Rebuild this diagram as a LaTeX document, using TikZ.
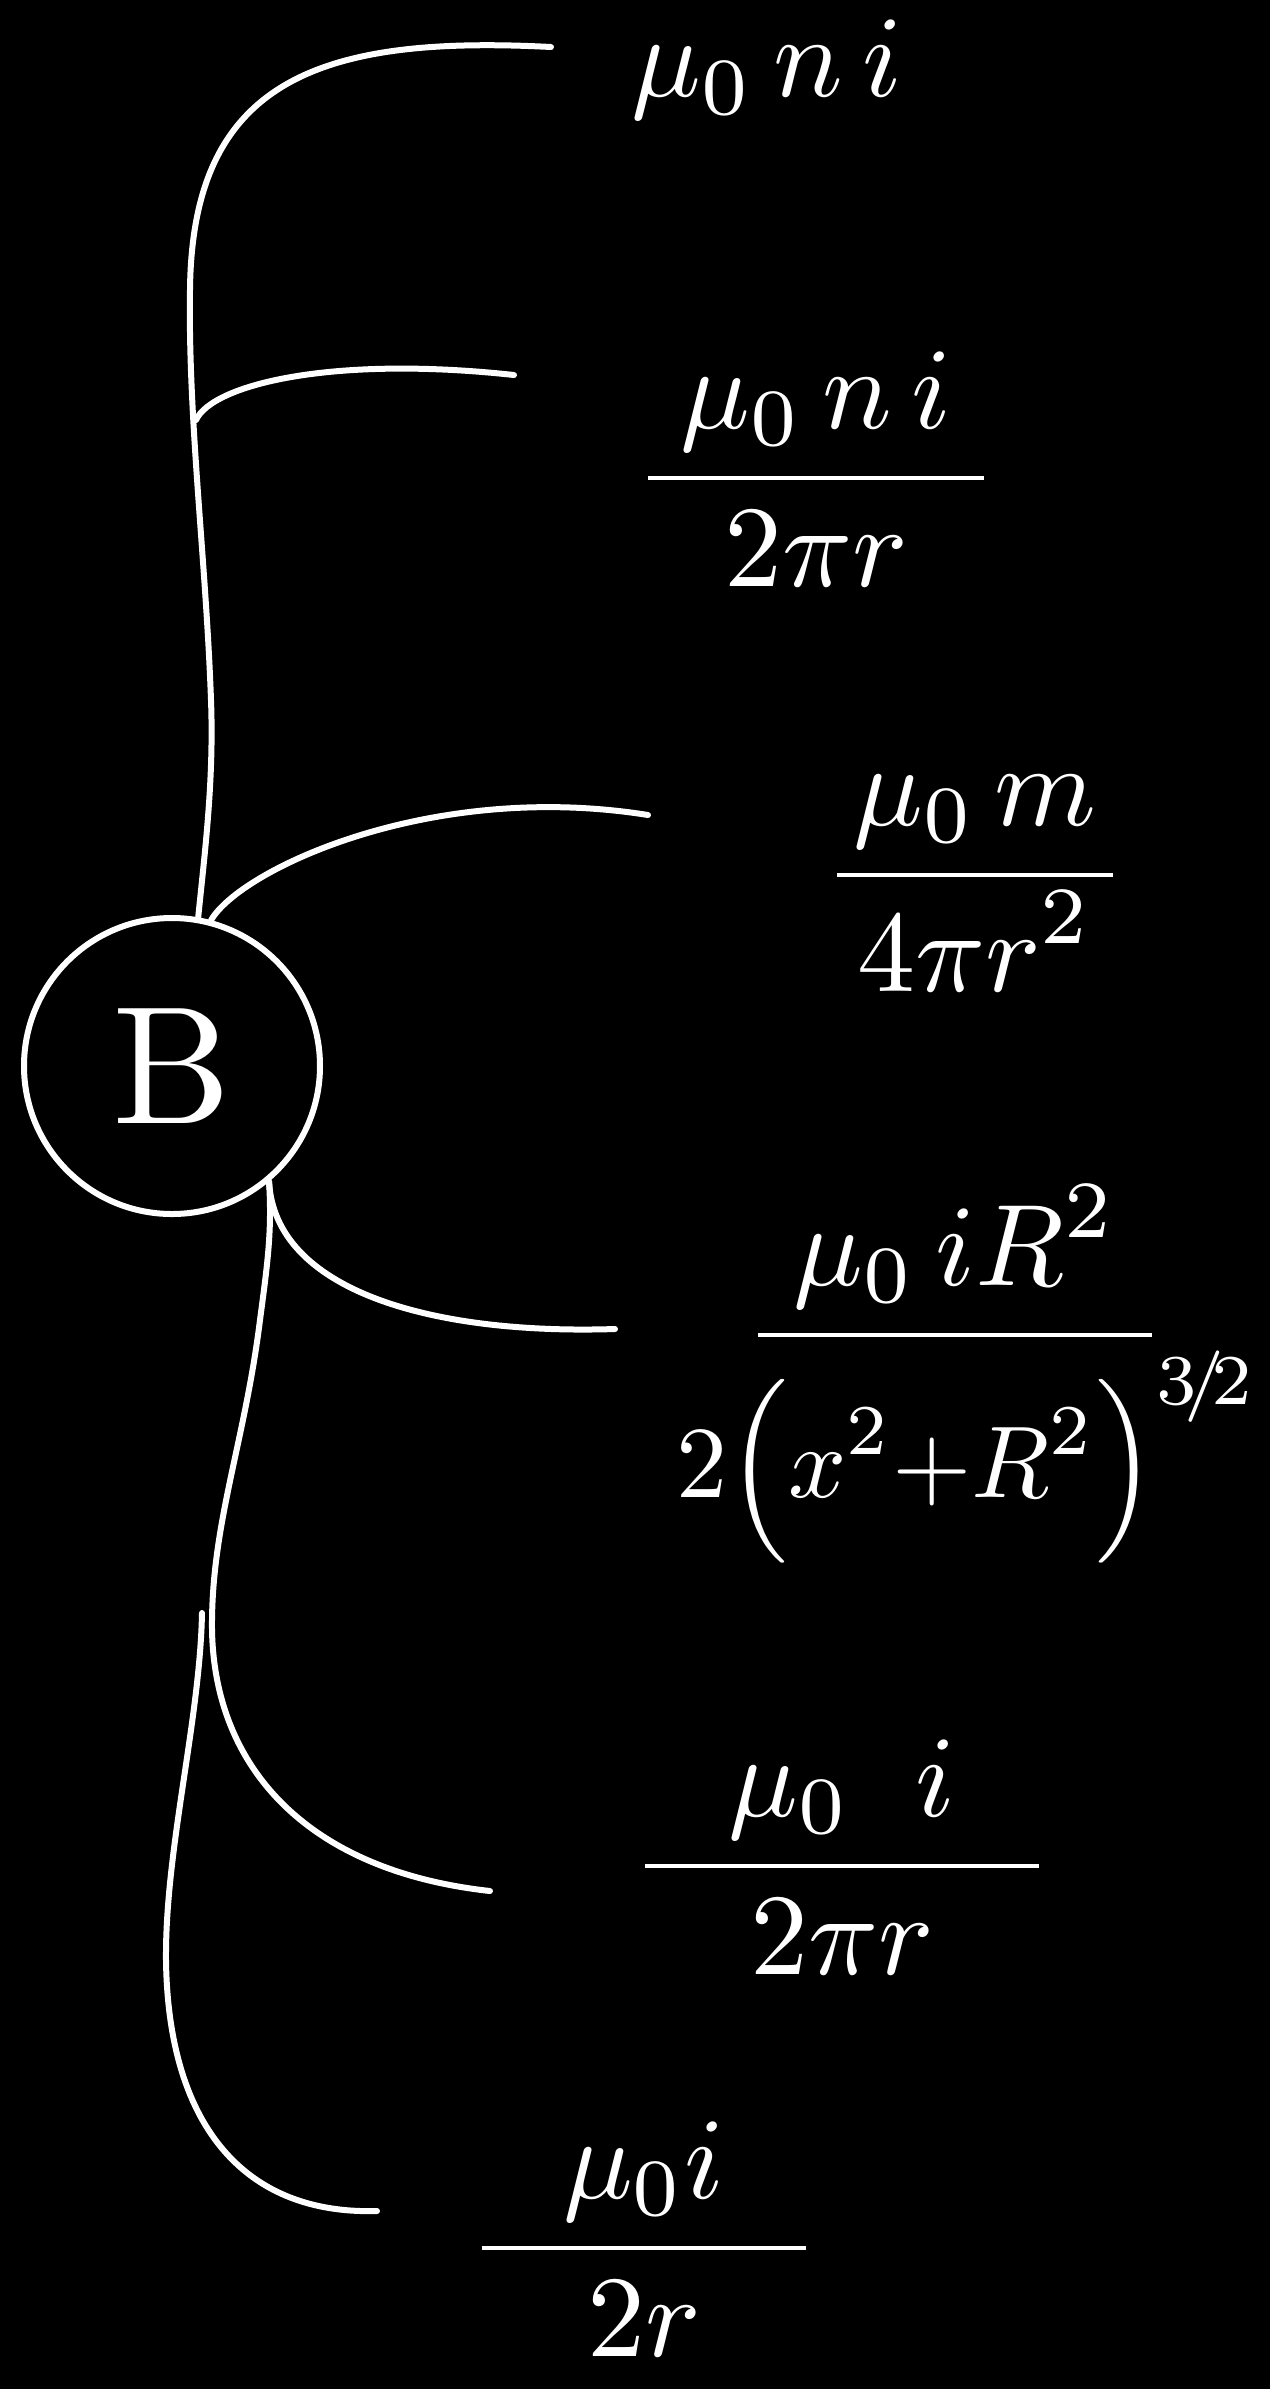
\documentclass[tikz,border=0pt]{standalone}
\usepackage{graphicx}
\usepackage{amsmath}
\usetikzlibrary{positioning}
\tikzset{
  wire/.style ={draw=white, line width=3pt, line cap=round},
  lbl/.style  ={text=white, inner sep=0pt},
  bnode/.style={circle, draw=white, line width=3pt, minimum size=148pt, inner sep=0pt, text=white},
}
% handwritten-size math, and a fraction with a bar of given width
\newcommand{\hw}[1]{\scalebox{5.8}{$\displaystyle #1$}}
\newcommand{\barfrac}[3]{\dfrac{\hbox to #1{\hss$\displaystyle #2$\hss}}{\hbox to #1{\hss$\displaystyle #3$\hss}}}

\begin{document}
\begin{tikzpicture}[x=0.5pt, y=-0.5pt]
  \useasboundingbox (0,0) rectangle (1270,2389);
  \fill[black] (0,0) rectangle (1270,2389);

  \node[bnode] (B) at (172,1066) {\scalebox{8.4}{B}};

  \node[lbl] (f1) at (767,70) {\hw{\mu_0\,n\,i}};
  \node[lbl, anchor=base] (f2) at (816,507) {\hw{\barfrac{29pt}{\mu_0\,n\,i}{2\pi r}}};
  \node[lbl, anchor=base] (f3) at (975,904) {\hw{\barfrac{23.8pt}{\mu_0\,m}{4\pi r^2}}};
  \node[lbl, anchor=base] (f4) at (955,1364) {\hw{\barfrac{34pt}{\mu_0\,i R^2}{\hskip2pt\scalebox{0.88}{$\displaystyle 2\Bigl(x^2{+}R^2\Bigr)^{3\!/\!2}$}}}};
  \node[lbl, anchor=base] (f5) at (842,1895) {\hw{\barfrac{34pt}{\mu_0\;\;i}{2\pi r}}};
  \node[lbl, anchor=base] (f6) at (644,2277) {\hw{\barfrac{28pt}{\mu_0 i}{2r}}};

  \coordinate (e1) at (551,47);
  \coordinate (j1) at (196,420);
  \coordinate (e2) at (514,375);
  \coordinate (e3) at (648,815);
  \coordinate (e4) at (615,1329);
  \coordinate (e5) at (490,1891);
  \coordinate (j2) at (202,1613);
  \coordinate (e6) at (377,2211);

  \draw[wire] (B.80) .. controls (205,850) and (214,780) .. (211,700)
              .. controls (206,560) and (188,420) .. (190,290)
              .. controls (192,80) and (320,35) .. (e1);
  \draw[wire] (j1) .. controls (212,385) and (330,355) .. (e2);
  \draw[wire] (B.75) .. controls (240,870) and (430,780) .. (e3);
  \draw[wire] (B.-50) .. controls (275,1290) and (430,1335) .. (e4);
  \draw[wire] (B.-50) .. controls (272,1230) and (268,1260) .. (260,1320)
              .. controls (245,1440) and (213,1520) .. (212,1620)
              .. controls (210,1760) and (300,1870) .. (e5);
  \draw[wire] (j2) .. controls (200,1720) and (165,1850) .. (166,1960)
              .. controls (168,2120) and (240,2215) .. (e6);
\end{tikzpicture}
\end{document}
